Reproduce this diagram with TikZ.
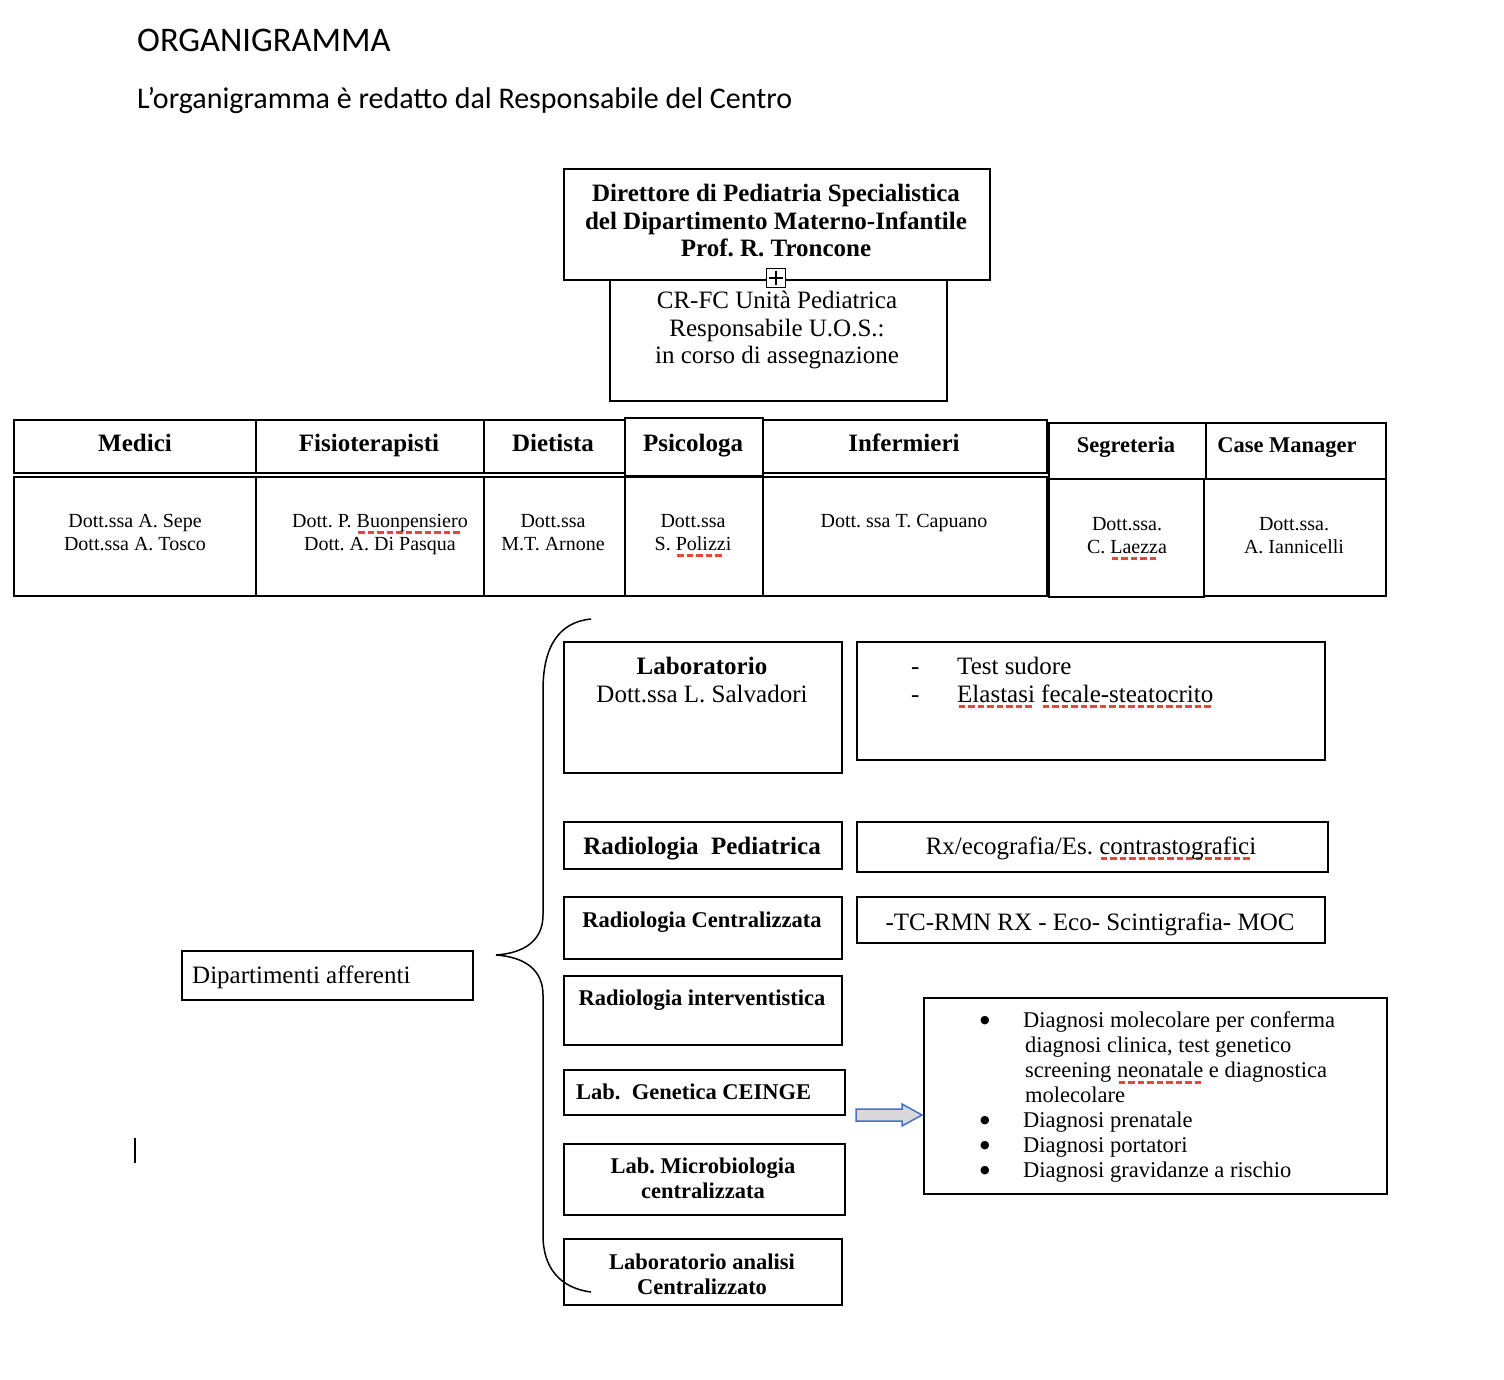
\documentclass[tikz,border=0pt]{standalone}
\usepackage{fontspec}
\setmainfont{Liberation Serif}
\newfontfamily\calfont{Carlito}
\newfontfamily\dvfont{DejaVu Sans}
\usetikzlibrary{calc}
\frenchspacing
\definecolor{spell}{HTML}{E8453C}
\definecolor{arrblue}{HTML}{4472C4}
\definecolor{arrfill}{HTML}{D9D9D9}
\newcommand\spellul[1]{\setbox0\hbox{#1}\rlap{\smash{\textcolor{spell}{\raisebox{-6pt}{\hbox to \wd0{\leaders\hbox to 9.5pt{\hss\rule{6.5pt}{3pt}\hss}\hfill}}}}}\box0\relax}
\newcommand\bul{\makebox[43pt][l]{\smash{\raisebox{4pt}{\dvfont\fontsize{11}{12}\selectfont ●}}}}
\newcommand\rbox[5]{\node[bx, minimum width={(#4-#2)*1pt}, minimum height={(#5-#3)*1pt}] (#1) at (#2,#3) {};}
\tikzset{
  bx/.style={draw, line width=2pt, inner sep=0pt, anchor=north west},
  txt/.style={inner sep=0pt, align=center},
  fbig/.style={font=\fontsize{25}{27.5}\selectfont},
  fbigb/.style={font=\bfseries\fontsize{25}{27.5}\selectfont},
  fmidb/.style={font=\bfseries\fontsize{22.5}{25}\selectfont},
  fmid/.style={font=\fontsize{22.5}{25}\selectfont},
  fsmall/.style={font=\fontsize{20}{23}\selectfont},
  fhead/.style={font=\bfseries\fontsize{25}{27.5}\selectfont},
  fheads/.style={font=\bfseries\fontsize{22.5}{25}\selectfont},
}
\begin{document}
\begin{tikzpicture}[x=1pt,y=-1pt]
\useasboundingbox (0,0) rectangle (1504,1380);
% titles
\node[anchor=base west, inner sep=0pt, font=\calfont\fontsize{34.5}{40}\selectfont] (title) at (137,52) {ORGANIGRAMMA};
\node[anchor=base west, inner sep=0pt, font=\calfont\fontsize{30}{34}\selectfont] (subtitle) at (137,109) {L’organigramma è redatto dal Responsabile del Centro};
% top boxes
\rbox{crfc}{609}{279}{946}{400}
\rbox{dir}{563}{168}{989}{279}
\node[txt, fbigb] (tdir) at (776,221) {Direttore di Pediatria Specialistica\\del Dipartimento Materno-Infantile\\Prof. R. Troncone};
\node[txt, fbig] (tcrfc) at (777,330.5) {CR-FC Unità Pediatrica\\Responsabile U.O.S.:\\in corso di assegnazione};
\node[draw, line width=1.5pt, minimum size=19pt, inner sep=0pt, fill=white] (pb) at (776,278) {};
\draw[line width=1.5pt, shorten >=3pt, shorten <=3pt] (pb.north) -- (pb.south);
\draw[line width=1.5pt, shorten >=3pt, shorten <=3pt] (pb.west) -- (pb.east);
% table
\rbox{hMed}{13}{419}{255}{472}
\rbox{bMed}{13}{476}{255}{595}
\rbox{hFis}{255}{419}{483}{472}
\rbox{bFis}{255}{476}{483}{595}
\rbox{hDie}{483}{419}{624}{472}
\rbox{bDie}{483}{476}{624}{595}
\rbox{hPsi}{624}{417}{762}{475}
\rbox{bPsi}{624}{476}{762}{595}
\rbox{hInf}{762}{419}{1046}{472}
\rbox{bInf}{762}{476}{1046}{595}
\rbox{hSeg}{1048}{422}{1205}{478}
\rbox{bSeg}{1048}{478}{1203}{596}
\rbox{hCas}{1205}{422}{1385}{478}
\rbox{bCas}{1203}{478}{1385}{595}
\node[anchor=base, inner sep=0pt, fhead] (tMed) at (135,451) {Medici};
\node[anchor=base, inner sep=0pt, fhead] (tFis) at (369,451) {Fisioterapisti};
\node[anchor=base, inner sep=0pt, fhead] (tDie) at (553,451) {Dietista};
\node[anchor=base, inner sep=0pt, fhead] (tPsi) at (693,451) {Psicologa};
\node[anchor=base, inner sep=0pt, fhead] (tInf) at (904,451) {Infermieri};
\node[anchor=base, inner sep=0pt, fheads] (tSeg) at (1126,452) {Segreteria};
\node[anchor=base, inner sep=0pt, fheads] (tCas) at (1287,452) {Case Manager};
\node[txt, fsmall] (dMed) at (135,533) {Dott.ssa A. Sepe\\Dott.ssa A. Tosco};
\node[txt, fsmall] (dFis) at (380,535) {Dott. P. \spellul{Buonpensiero}\\Dott. A. Di Pasqua};
\node[txt, fsmall] (dDie) at (553,533) {Dott.ssa\\M.T. Arnone};
\node[txt, fsmall] (dPsi) at (693,533) {Dott.ssa\\S. \spellul{Polizzi}};
\node[anchor=base, inner sep=0pt, fsmall] (dInf) at (904,527) {Dott. ssa T. Capuano};
\node[txt, fsmall] (dSeg) at (1127,536) {Dott.ssa.\\C. \spellul{Laezza}};
\node[txt, fsmall] (dCas) at (1294,536) {Dott.ssa.\\A. Iannicelli};
% lower section
\rbox{lab}{563}{641}{841}{772}
\rbox{labd}{856}{641}{1324}{759}
\rbox{rped}{563}{821}{841}{868}
\rbox{rpedd}{856}{821}{1327}{871}
\rbox{rcen}{563}{896}{841}{958}
\rbox{rcend}{856}{896}{1324}{942}
\rbox{rint}{563}{975}{841}{1044}
\rbox{gen}{563}{1069}{844}{1114}
\rbox{micro}{563}{1143}{844}{1214}
\rbox{anal}{563}{1238}{841}{1304}
\rbox{diag}{923}{997}{1386}{1193}
\rbox{dip}{181}{950}{472}{999}
\node[txt, fbig] (tlab) at (702,680) {\textbf{Laboratorio}\\Dott.ssa L. Salvadori};
\node[anchor=west, inner sep=0pt, align=left, fbig] (tlabd) at (911,680) {\makebox[46pt][l]{-}Test sudore\\\makebox[46pt][l]{-}\spellul{Elastasi} \spellul{fecale-steatocrito}};
\node[anchor=base, inner sep=0pt, fbigb] (trped) at (702,854) {Radiologia\ \ Pediatrica};
\node[anchor=base, inner sep=0pt, fbig] (trpedd) at (1091,854) {Rx/ecografia/Es. \spellul{contrastografici}};
\node[anchor=base, inner sep=0pt, fmidb] (trcen) at (702,927) {Radiologia Centralizzata};
\node[anchor=base, inner sep=0pt, fbig] (trcend) at (1090,930) {-TC-RMN RX - Eco- Scintigrafia- MOC};
\node[anchor=base, inner sep=0pt, fmidb] (trint) at (702,1005) {Radiologia interventistica};
\node[anchor=base west, inner sep=0pt, fmidb] (tgen) at (576,1099) {Lab.\ \ Genetica CEINGE};
\node[txt, fmidb] (tmicro) at (703,1178) {Lab. Microbiologia\\centralizzata};
\node[txt, fmidb] (tanal) at (702,1274) {Laboratorio analisi\\Centralizzato};
\node[anchor=base west, inner sep=0pt, fbig] (tdip) at (192,983) {Dipartimenti afferenti};
\node[anchor=west, inner sep=0pt, align=left, fmid] (tdiag) at (980,1097) {\bul Diagnosi molecolare per conferma\\\hspace*{45pt}diagnosi clinica, test genetico\\\hspace*{45pt}screening \spellul{neonatale} e diagnostica\\\hspace*{45pt}molecolare\\\bul Diagnosi prenatale\\\bul Diagnosi portatori\\\bul Diagnosi gravidanze a rischio};
% brace
\draw[line width=1.5pt] (591,619) .. controls (560,622) and (543,645) .. (543,690) -- (543,915) .. controls (543,940) and (525,953) .. (496,955) .. controls (525,957) and (543,970) .. (543,995) -- (543,1235) .. controls (543,1268) and (560,1288) .. (591,1292);
% block arrow
\draw[line width=1.5pt, draw=arrblue, fill=arrfill, line join=miter] (856,1109) -- (902,1109) -- (902,1104) -- (922,1115) -- (902,1126) -- (902,1121) -- (856,1121) -- cycle;
% text cursor
\coordinate (cur1) at (135,1138);
\coordinate (cur2) at (135,1163);
\draw[line width=2pt] (cur1) -- (cur2);
\end{tikzpicture}
\end{document}
